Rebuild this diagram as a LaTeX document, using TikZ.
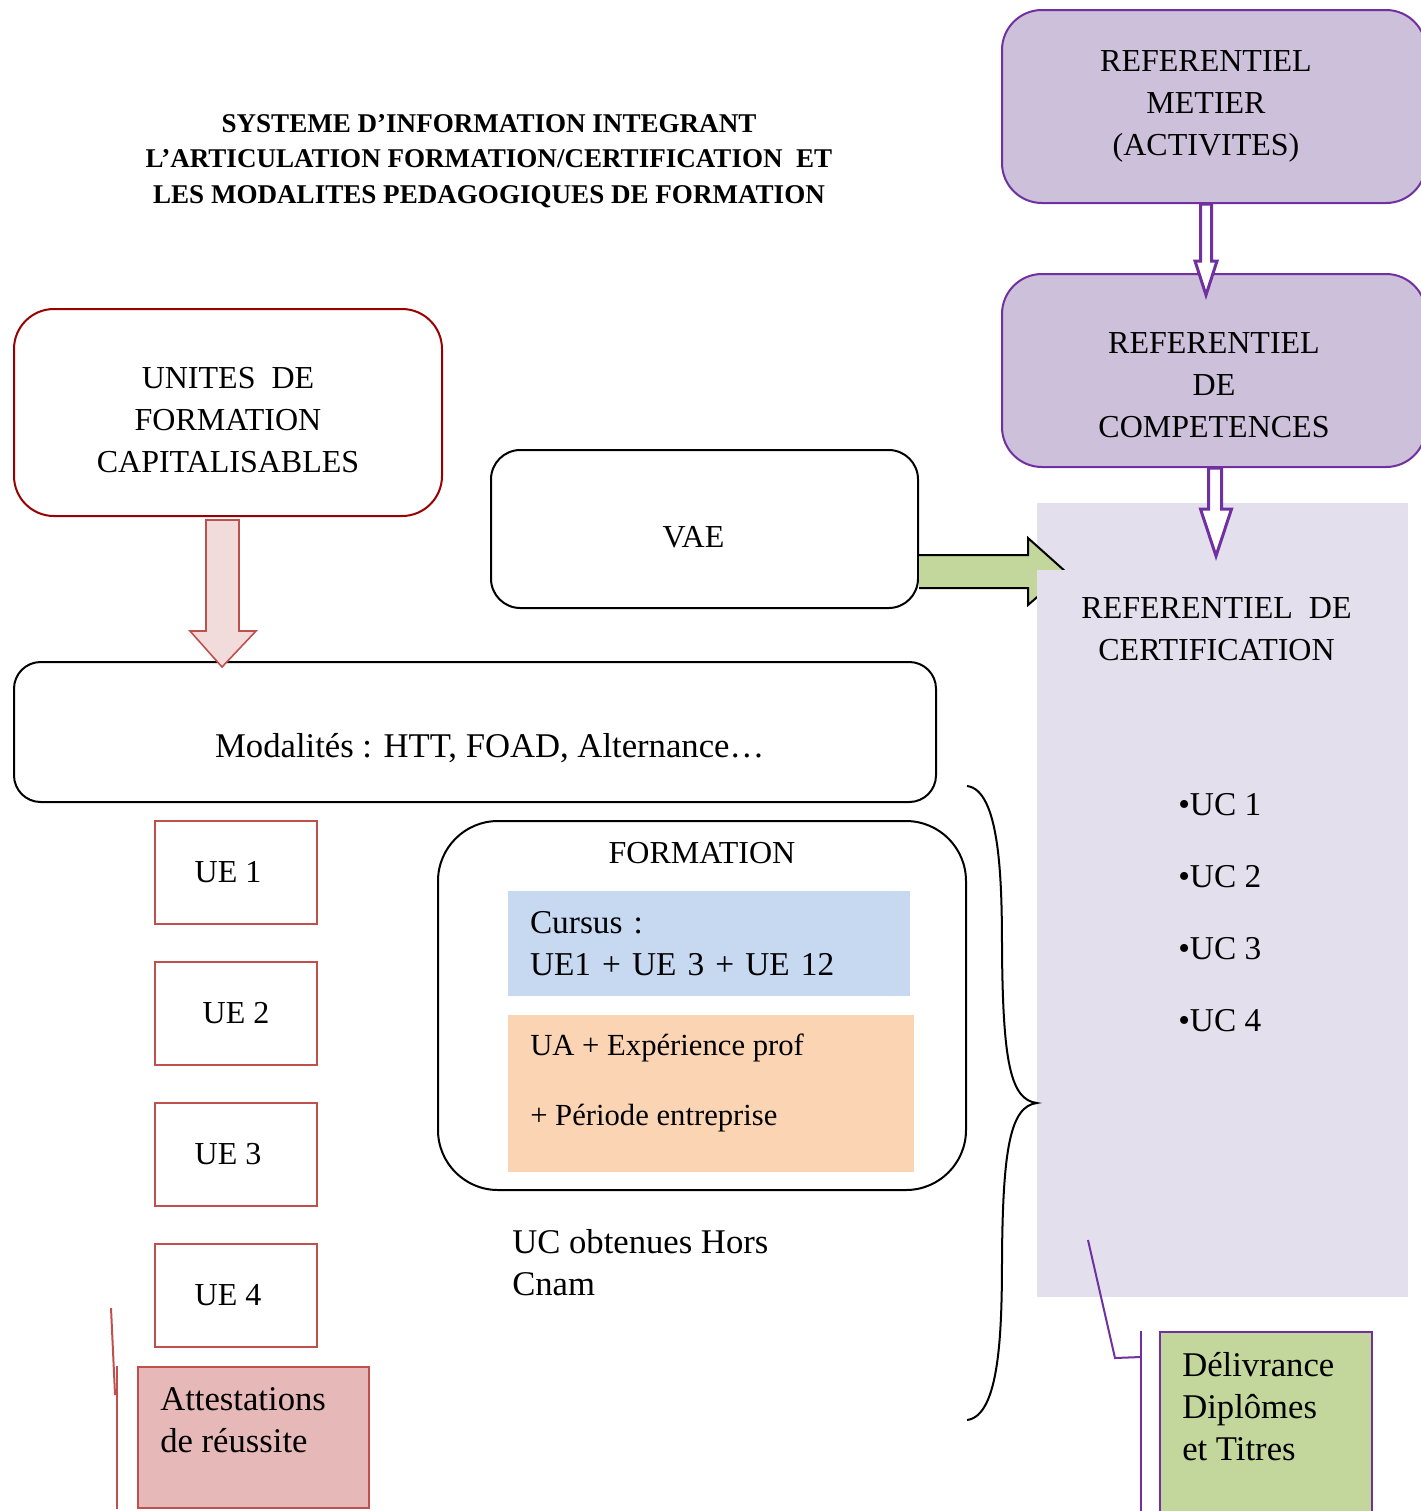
\documentclass[tikz,border=0pt]{standalone}
\usepackage{fontspec}
\setmainfont{Liberation Serif}
\usepackage{tikz}
\usetikzlibrary{positioning,calc}

\definecolor{refviolet}{HTML}{7030A0}
\definecolor{reflilas}{HTML}{CCC0DA}
\definecolor{certifond}{HTML}{E4DFEC}
\definecolor{vertpale}{HTML}{C3D69B}
\definecolor{rougefonce}{HTML}{990000}
\definecolor{uerouge}{HTML}{C0504D}
\definecolor{roseclair}{HTML}{F2DCDB}
\definecolor{attestrose}{HTML}{E6B9B8}
\definecolor{cursusbleu}{HTML}{C6D9F1}
\definecolor{uapeche}{HTML}{FBD4B4}

\newcommand{\majfont}{\fontsize{24}{31.5}\selectfont}
\newcommand{\minfont}{\fontsize{26}{31.5}\selectfont}
\newcommand{\titrefont}{\bfseries\fontsize{20.3}{26.6}\selectfont}

\begin{document}
\begin{tikzpicture}[x=0.75pt,y=-0.75pt,
		refbox/.style={draw=refviolet,fill=reflilas,line width=1.5pt,rounded corners=30pt,minimum width=318pt,minimum height=144.75pt,align=center,font=\majfont},
		roundbox/.style={draw=black,line width=1.5pt,align=center},
		uebox/.style={draw=uerouge,line width=1.5pt,minimum width=121.5pt,minimum height=77.25pt,font=\majfont},
		hollow/.style={draw=refviolet,fill=white,line width=2.25pt,line join=miter},
		inlabel/.style={align=center,inner sep=0pt},
		txt/.style={inner sep=0pt,align=left,font=\minfont}]
		\useasboundingbox (0,0) rectangle (1421,1511);
		% titre
		\node[align=center,font=\titrefont] (titre) at (489,161) {SYSTEME D’INFORMATION INTEGRANT\\L’ARTICULATION FORMATION/CERTIFICATION~~ET\\LES MODALITES PEDAGOGIQUES DE FORMATION};
		% colonne de droite
		\node[fill=certifond,minimum width=278.25pt,minimum height=595.5pt,inner sep=0pt] (certif) at (1222.5,900) {};
		\node[refbox,label={[inlabel,font=\majfont,xshift=-6pt]center:REFERENTIEL\\METIER\\(ACTIVITES)}] (metier) at (1214,106.5) {};
		\node[refbox,label={[inlabel,font=\majfont,yshift=-11.25pt]center:REFERENTIEL\\DE\\COMPETENCES}] (comp) at (1214,370.5) {};
		\draw[hollow] (1200.5,204) -- (1200.5,261) -- (1195,261) -- (1206,295) -- (1217,261) -- (1211.5,261) -- (1211.5,204) -- cycle;
		\draw[hollow] (1208.5,468) -- (1208.5,509) -- (1200.5,509) -- (1216,556) -- (1231.5,509) -- (1221.5,509) -- (1221.5,468) -- cycle;
		% VAE
		\node[roundbox,rounded corners=22pt,minimum width=320.25pt,minimum height=118.5pt,label={[inlabel,font=\majfont,xshift=-8.25pt,yshift=-6pt]center:VAE}] (vae) at (704.5,529) {};
		\draw[fill=vertpale,line width=1.5pt] (vae.east |- 0,555) -- (1028,555) -- (1028,538) -- (1066,572) -- (1028,605) -- (1028,588) -- (vae.east |- 0,588);
		\node[fill=certifond,minimum width=278.25pt,minimum height=88.5pt,label={[inlabel,font=\majfont,xshift=-4.5pt]center:REFERENTIEL~~DE\\CERTIFICATION}] (certitre) at (1222.5,629) {};
		\node[txt,anchor=west,font=\fontsize{25}{54}\selectfont] (uclist) at (1178,912.5) {•UC 1\\•UC 2\\•UC 3\\•UC 4};
		% colonne de gauche
		\node[roundbox,draw=rougefonce,rounded corners=30pt,minimum width=321pt,minimum height=155.25pt,label={[inlabel,font=\majfont,yshift=-6pt]center:UNITES~~DE\\FORMATION\\CAPITALISABLES}] (unites) at (228,412.5) {};
		\node[roundbox,rounded corners=20pt,minimum width=691.5pt,minimum height=105pt,label={[inlabel,font=\minfont,xshift=11pt,yshift=-12pt]center:Modalités : HTT, FOAD, Alternance…}] (modal) at (475,732) {};
		\draw[draw=uerouge,fill=roseclair,line width=1.2pt] (206,520) -- (206,631) -- (190,631) -- (222,667) -- (256,631) -- (239,631) -- (239,520) -- cycle;
		\node[uebox] (ue1) at (236,872.5) {UE 1\hspace*{12pt}};
		\node[uebox] (ue2) at (236,1013.5) {UE 2};
		\node[uebox] (ue3) at (236,1154.5) {UE 3\hspace*{12pt}};
		\node[uebox] (ue4) at (236,1295.5) {UE 4\hspace*{12pt}};
		\node[draw=uerouge,fill=attestrose,line width=1.5pt,minimum width=173.25pt,minimum height=105.75pt] (attest) at (253.5,1437.5) {};
		\node[txt,anchor=north west] (attestxt) at (160,1387) {Attestations\\de réussite};
		\draw[uerouge,line width=1.5pt] (111,1308) -- (115,1394) -- ($(attest.west)+(-20,-43.5)$);
		\draw[uerouge,line width=1.5pt] ($(attest.north west)+(-20,0)$) -- ($(attest.south west)+(-20,0)$);
		% formation
		\node[roundbox,rounded corners=45pt,minimum width=396pt,minimum height=276.75pt] (formation) at (702,1005.5) {};
		\node[font=\majfont] (formtitre) at (702,853) {FORMATION};
		\node[fill=cursusbleu,minimum width=301.5pt,minimum height=78.75pt,text width=268.5pt,inner xsep=16.5pt,inner ysep=0pt,align=left,font=\fontsize{25}{31.5}\selectfont] (cursus) at (709,943.5) {Cursus :\\UE1 + UE 3 + UE 12};
		\node[fill=uapeche,minimum width=304.5pt,minimum height=117.75pt] (ua) at (711,1093.5) {};
		\node[txt,anchor=north west,font=\fontsize{23}{52}\selectfont] (uatxt) at (530,1034) {UA + Expérience prof\\+ Période entreprise};
		\node[txt,anchor=north west] (horscnam) at (512,1229) {UC obtenues Hors\\Cnam};
		% accolade
		\draw[line width=1.5pt] (967,786) .. controls (1000,790) and (1002,880) .. (1002,950) .. controls (1003,1060) and (1010,1100) .. (1037,1103) .. controls (1010,1106) and (1003,1150) .. (1002,1256) .. controls (1002,1330) and (1000,1416) .. (967,1420);
		% delivrance
		\node[draw=refviolet,fill=vertpale,line width=1.5pt,minimum width=159pt,minimum height=141pt] (delivr) at (1266,1426) {};
		\node[txt,anchor=north west] (delivrtxt) at (1182,1352) {Délivrance\\Diplômes\\et Titres};
		\draw[refviolet,line width=1.5pt] (1088,1240) -- (1115,1358) -- ($(delivr.north west)+(-18,26)$);
		\draw[refviolet,line width=1.5pt] ($(delivr.north west)+(-18,0)$) -- ($(delivr.south west)+(-18,0)$);
\end{tikzpicture}
\end{document}
